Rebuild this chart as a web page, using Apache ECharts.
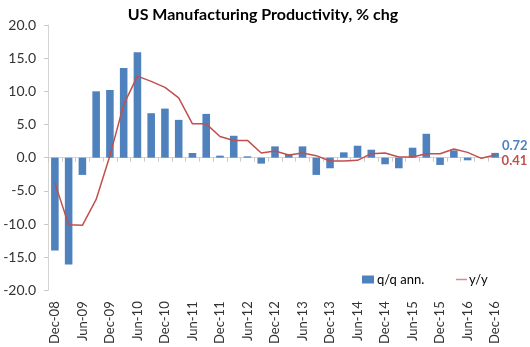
<!DOCTYPE html>
<html>
<head>
<meta charset="utf-8">
<script src="https://cdn.jsdelivr.net/npm/echarts@6/dist/echarts.min.js"></script>
<style>html,body{margin:0;padding:0;background:#fff}#c{width:530px;height:347px}</style>
</head>
<body>
<div id="c"></div>
<script>
var categories = ['Dec-08','Mar-09','Jun-09','Sep-09','Dec-09','Mar-10','Jun-10','Sep-10','Dec-10','Mar-11','Jun-11','Sep-11','Dec-11','Mar-12','Jun-12','Sep-12','Dec-12','Mar-13','Jun-13','Sep-13','Dec-13','Mar-14','Jun-14','Sep-14','Dec-14','Mar-15','Jun-15','Sep-15','Dec-15','Mar-16','Jun-16','Sep-16','Dec-16'];
var qoqAnn = [-14.0,-16.1,-2.6,10.0,10.2,13.5,15.9,6.7,7.4,5.7,0.7,6.6,0.3,3.3,0.2,-0.9,1.7,0.5,1.7,-2.6,-1.6,0.8,1.8,1.2,-1.0,-1.6,1.5,3.6,-1.1,1.1,-0.4,0.05,0.72];
var yoy = [-3.8,-10.1,-10.2,-6.3,0.3,8.0,12.3,11.5,10.6,9.0,5.1,5.1,3.2,2.6,2.6,0.7,1.0,0.4,0.7,0.3,-0.5,-0.5,-0.4,0.6,0.7,0.1,0.1,0.6,0.6,1.3,0.8,-0.1,0.41];
var yTicks = {min: -20, max: 20, interval: 5};

var FONT = 'Lato';
var lastIdx = categories.length - 1;
var barData = qoqAnn.map(function (v, i) {
  if (i === lastIdx) {
    return {value: v, label: {show: true, position: 'right', distance: 3, offset: [0, -9],
      formatter: function (p) { return p.value.toFixed(2); },
      color: '#4F81BD', fontWeight: 'bold', fontSize: 13, fontFamily: FONT}};
  }
  return v;
});

var chart = echarts.init(document.getElementById('c'));
chart.setOption({
  animation: false,
  title: {text: 'US Manufacturing Productivity, % chg', left: 258, textAlign: 'center', top: 2,
    textStyle: {fontFamily: FONT, fontSize: 16, fontWeight: 'bold', color: '#000'}},
  grid: {left: 48, right: 28, top: 25, bottom: 56, containLabel: false},
  legend: [
    {left: 357, top: 268, itemWidth: 12, itemHeight: 8, itemGap: 2,
      textStyle: {fontFamily: FONT, fontSize: 13, color: '#000', padding: [0, 0, 0, -2]},
      data: [{name: 'q/q ann.', icon: 'rect'}]},
    {left: 451, top: 268, itemWidth: 11, itemHeight: 1.5,
      itemStyle: {borderWidth: 0, color: '#D88A88'}, lineStyle: {width: 0},
      textStyle: {fontFamily: FONT, fontSize: 13, color: '#000', padding: [0, 0, 0, -3]},
      data: [{name: 'y/y', icon: 'rect'}]}
  ],
  xAxis: [
    {type: 'category', data: categories, boundaryGap: true,
      axisLine: {onZero: true, lineStyle: {color: '#D4D4D4', width: 1}},
      axisTick: {show: true, interval: 0, length: 4, lineStyle: {color: '#C8C8C8'}},
      axisLabel: {show: false}},
    {type: 'category', data: categories, boundaryGap: true, position: 'bottom',
      axisLine: {show: false, onZero: false}, axisTick: {show: false},
      axisLabel: {show: true, interval: 1, rotate: 90, margin: 11, fontFamily: FONT, fontSize: 13, color: '#333'}}
  ],
  yAxis: {type: 'value', min: yTicks.min, max: yTicks.max, interval: yTicks.interval,
    axisLine: {show: true, lineStyle: {color: '#D4D4D4'}},
    axisTick: {show: true, length: 4, lineStyle: {color: '#C8C8C8'}},
    splitLine: {show: false},
    axisLabel: {formatter: function (v) { return v.toFixed(1); }, margin: 12, fontFamily: FONT, fontSize: 14, color: '#333'}},
  series: [
    {name: 'q/q ann.', type: 'bar', xAxisIndex: 0, data: barData, barWidth: '55%',
      itemStyle: {color: '#4F81BD'}},
    {name: 'y/y', type: 'line', xAxisIndex: 0, data: yoy, symbol: 'none',
      lineStyle: {color: '#C0504D', width: 1.5}, itemStyle: {color: '#C0504D'},
      markPoint: {symbol: 'circle', symbolSize: 1, itemStyle: {color: 'rgba(0,0,0,0)'},
        data: [{coord: [lastIdx, yoy[lastIdx]], value: yoy[lastIdx],
          label: {show: true, position: 'right', distance: 6, offset: [0, 6],
            formatter: function (p) { return p.value.toFixed(2); },
            color: '#C0504D', fontWeight: 'bold', fontSize: 13, fontFamily: FONT}}]}}
  ]
});
</script>
</body>
</html>
